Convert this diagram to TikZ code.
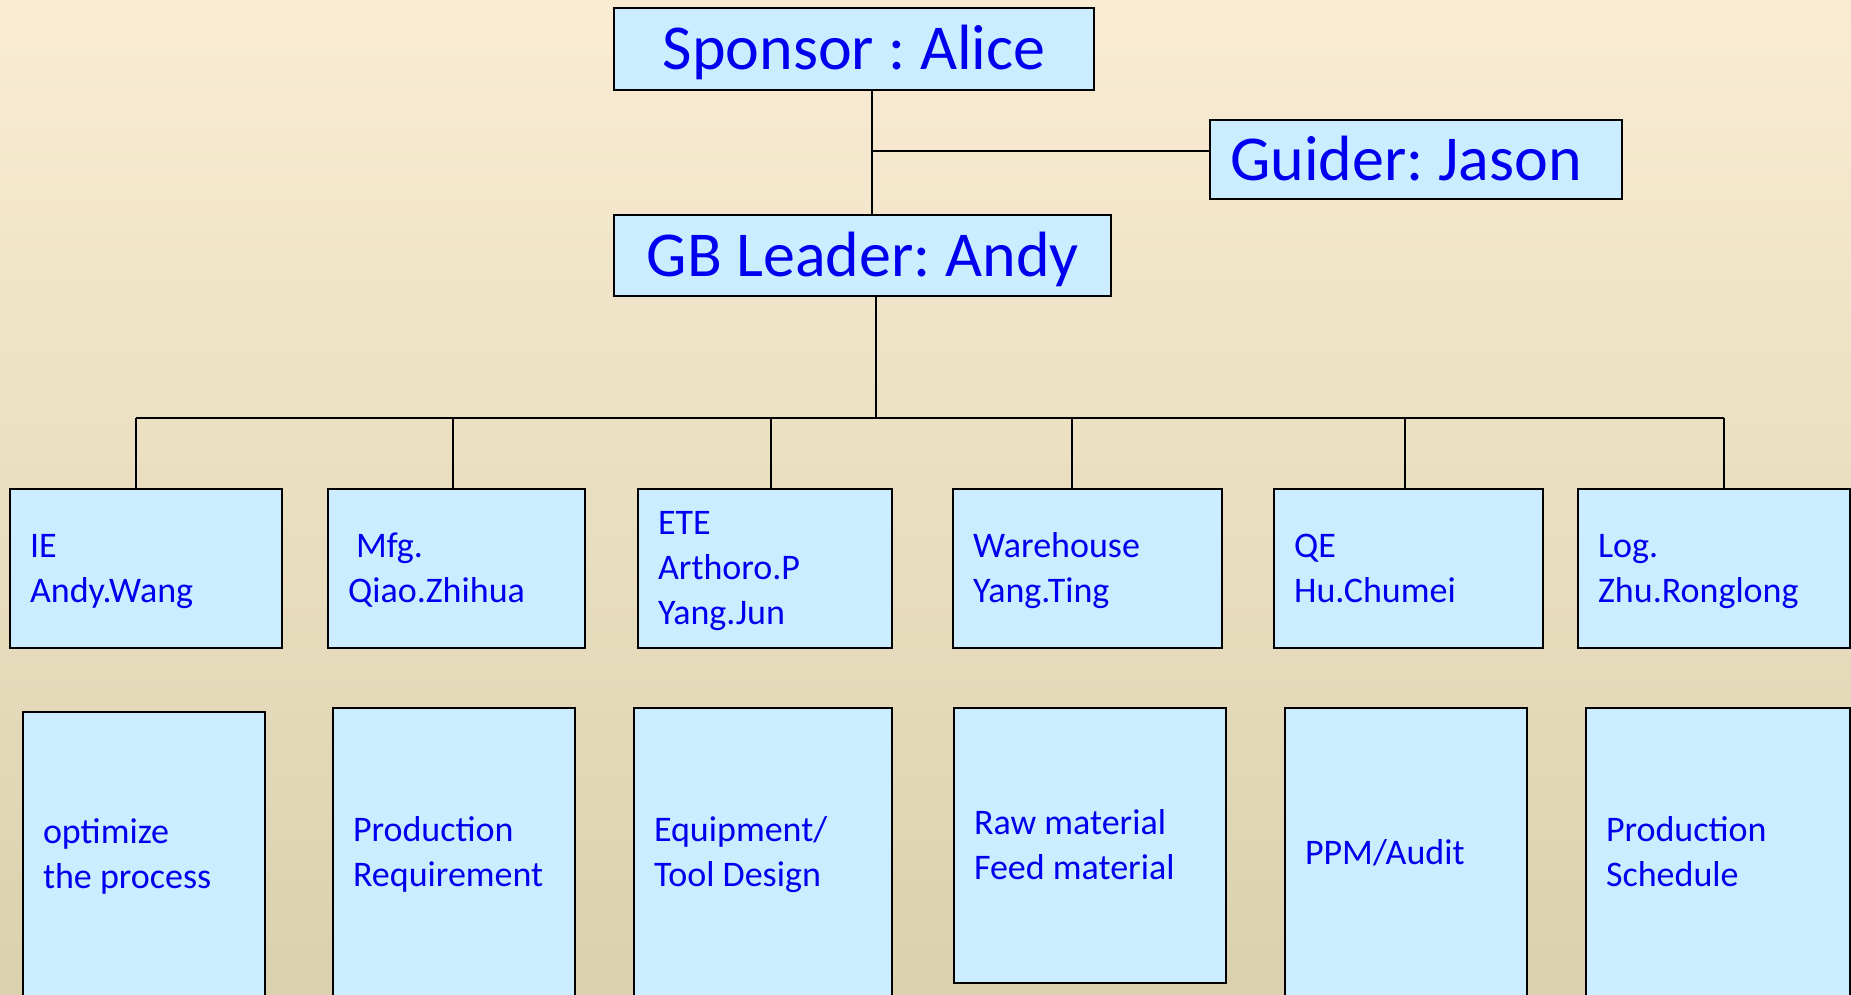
\documentclass[tikz,border=0pt]{standalone}
\usepackage{fontspec}
\setmainfont{Carlito}
\frenchspacing
\definecolor{bgtop}{RGB}{249,236,211}
\definecolor{bgmid}{RGB}{243,235,215}
\definecolor{bgbot}{RGB}{219,209,174}
\definecolor{boxfill}{RGB}{204,236,255}
\definecolor{ink}{RGB}{0,0,238}
% struts that keep every line of a box at the same height and depth
\newcommand\Hstr{\rule[-17.5pt]{0pt}{76pt}}
\newcommand\Sstr{\rule[-11.5pt]{0pt}{45pt}}
\begin{document}
\begin{tikzpicture}[x=1pt,y=-1pt,
  headbox/.style={draw=black, line width=2.4pt, fill=boxfill, text=ink,
    font=\fontsize{64}{77}\selectfont, inner sep=0pt, anchor=north west},
  teambox/.style={draw=black, line width=2.2pt, fill=boxfill, text=ink,
    font=\fontsize{36}{45}\selectfont, align=flush left, inner xsep=20pt,
    inner ysep=0pt, anchor=north west},
  link/.style={draw=black, line width=1.8pt}]
\useasboundingbox (0,0) rectangle (1851,994);
\clip (0,0) rectangle (1851,994);
\shade[top color=bgtop, middle color=bgmid, bottom color=bgbot] (0,0) rectangle (1851,994);

% leadership
\node[headbox, minimum width=480pt, minimum height=82pt] (spon) at (613,7) {\Hstr Sponsor : Alice};
\node[headbox, minimum width=412pt, minimum height=79pt, text width=372pt,
      align=flush left, inner xsep=20pt] (guider) at (1209,119) {\Hstr Guider: Jason};
\node[headbox, minimum width=497pt, minimum height=81pt] (gb) at (613,214) {\Hstr GB Leader: Andy};

% team members
\node[teambox, minimum width=272pt, minimum height=159pt, text width=232pt] (ie) at (9,488)
  {\Sstr IE\\\Sstr Andy.Wang};
\node[teambox, minimum width=257pt, minimum height=159pt, text width=217pt] (mfg) at (327,488)
  {\Sstr\hspace*{8pt}Mfg.\\\Sstr Qiao.Zhihua};
\node[teambox, minimum width=254pt, minimum height=159pt, text width=214pt] (ete) at (637,488)
  {\Sstr ETE\\\Sstr Arthoro.P\\\Sstr Yang.Jun};
\node[teambox, minimum width=269pt, minimum height=159pt, text width=229pt] (wh) at (952,488)
  {\Sstr Warehouse\\\Sstr Yang.Ting};
\node[teambox, minimum width=269pt, minimum height=159pt, text width=229pt] (qe) at (1273,488)
  {\Sstr QE\\\Sstr Hu.Chumei};
\node[teambox, minimum width=272pt, minimum height=159pt, text width=232pt] (log) at (1577,488)
  {\Sstr Log.\\\Sstr Zhu.Ronglong};

% responsibilities
\node[teambox, line width=2pt, minimum width=242pt, minimum height=286pt, text width=202pt] (opt) at (22,711)
  {\Sstr optimize\\\Sstr the process};
\node[teambox, line width=2pt, minimum width=242pt, minimum height=290pt, text width=202pt] (preq) at (332,707)
  {\Sstr Production\\\Sstr Requirement};
\node[teambox, line width=2pt, minimum width=258pt, minimum height=290pt, text width=218pt] (equip) at (633,707)
  {\Sstr Equipment/\\\Sstr Tool Design};
\node[teambox, line width=2pt, minimum width=272pt, minimum height=275pt, text width=232pt] (raw) at (953,707)
  {\Sstr Raw material\\\Sstr Feed material};
\node[teambox, line width=2pt, minimum width=242pt, minimum height=290pt, text width=202pt] (ppm) at (1284,707)
  {\Sstr PPM/Audit};
\node[teambox, line width=2pt, minimum width=264pt, minimum height=290pt, text width=224pt] (sched) at (1585,707)
  {\Sstr Production\\\Sstr Schedule};

% reporting lines
\coordinate (j) at (872,151);
\draw[link] (j |- spon.south) -- (j |- gb.north);
\draw[link] (j) -- (guider.west |- j);

\coordinate (g) at (876,418);
\coordinate (s1) at (136,418);
\coordinate (s2) at (453,418);
\coordinate (s3) at (771,418);
\coordinate (s4) at (1072,418);
\coordinate (s5) at (1405,418);
\coordinate (s6) at (1724,418);
\draw[link] (g |- gb.south) -- (g);
\draw[link] (s1) -- (s6);
\draw[link] (s1) -- (s1 |- ie.north);
\draw[link] (s2) -- (s2 |- mfg.north);
\draw[link] (s3) -- (s3 |- ete.north);
\draw[link] (s4) -- (s4 |- wh.north);
\draw[link] (s5) -- (s5 |- qe.north);
\draw[link] (s6) -- (s6 |- log.north);
\end{tikzpicture}
\end{document}
